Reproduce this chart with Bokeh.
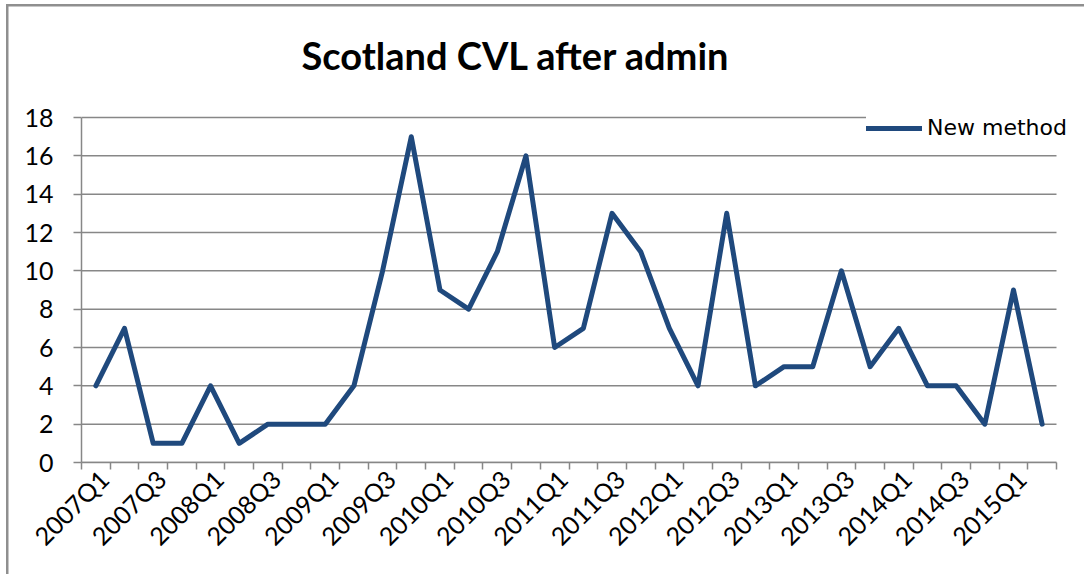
import math
from bokeh.plotting import figure
from bokeh.models import (Range1d, FixedTicker, Legend, LegendItem, Label, ColumnDataSource)
from bokeh.embed import file_html
from bokeh.resources import INLINE

quarters = [f"{y}Q{q}" for y in range(2007, 2016) for q in (1, 2, 3, 4)][:34]
new_method = [4, 7, 1, 1, 4, 1, 2, 2, 2, 4, 10, 17, 9, 8, 11, 16, 6, 7, 13, 11,
              7, 4, 13, 4, 5, 5, 10, 5, 7, 4, 4, 2, 9, 2]
y_ticks = [0, 2, 4, 6, 8, 10, 12, 14, 16, 18]
title_text = "Scotland CVL after admin"
series_name = "New method"

n = len(quarters)
idx = list(range(n))
src = ColumnDataSource(dict(x=idx, y=new_method, q=quarters))

GRID = "#878787"
LINE = "#1F497D"
FONT = "Lato"

# plot area: x 81..1056 px, y 117..462 px; the frame is stretched to the right
# and top edges so that the title and legend are never clipped
px_per_cat = (1056 - 81) / n
x_end = (n - 0.5) + (1084 - 1056) / px_per_cat
y_max = 18
y_end = y_max * 462 / (462 - 117)
label_shift = 0.28  # rotated labels end slightly right of category centre

p = figure(width=1084, height=574, output_backend="svg", toolbar_location=None,
           x_range=Range1d(-0.5, x_end), y_range=Range1d(0, y_end),
           min_border_left=81, min_border_right=0, min_border_top=0,
           min_border_bottom=112)
p.outline_line_color = None
p.background_fill_color = None
p.background_fill_alpha = 0
p.border_fill_color = None
p.border_fill_alpha = 0
p.styles = {
    "background-color": "white",
    "background-image": "linear-gradient(#8f8f8f, #8f8f8f), linear-gradient(#8f8f8f, #8f8f8f)",
    "background-size": "100% 2.5px, 2.5px 100%",
    "background-position": "6px 4px, 6px 4px",
    "background-repeat": "no-repeat",
}

# title
p.add_layout(Label(x=220, y=408, x_units="screen", y_units="screen",
                   text=title_text, text_font=FONT, text_font_style="bold",
                   text_font_size="38px", text_color="black",
                   text_align="left", text_baseline="alphabetic"))

# horizontal gridlines over the category area only
p.segment(x0=[-0.5] * len(y_ticks), x1=[n - 0.5] * len(y_ticks), y0=y_ticks, y1=y_ticks,
          line_color=GRID, line_width=1.5)

r = p.line("x", "y", source=src, line_color=LINE, line_width=5,
           line_join="round", line_cap="round")

# y axis
p.yaxis.bounds = (0, y_max)
p.yaxis.ticker = FixedTicker(ticks=y_ticks)
p.yaxis.axis_line_color = GRID
p.yaxis.axis_line_width = 1.5
p.yaxis.major_tick_line_color = GRID
p.yaxis.major_tick_line_width = 1.5
p.yaxis.major_tick_in = 0
p.yaxis.major_tick_out = 8
p.yaxis.minor_tick_line_color = None
p.yaxis.major_label_standoff = 20
p.yaxis.major_label_text_font = FONT
p.yaxis.major_label_text_font_size = "25px"
p.yaxis.major_label_text_color = "black"

# x axis (category style)
label_pos = [i + label_shift for i in idx[::2]]
p.xaxis.bounds = (-0.5, n - 0.5)
p.xaxis.ticker = FixedTicker(ticks=label_pos,
                             minor_ticks=[i - 0.5 for i in range(n + 1)])
p.xaxis.major_label_overrides = {pos: quarters[i] for pos, i in zip(label_pos, idx[::2])}
p.xaxis.axis_line_color = GRID
p.xaxis.axis_line_width = 1.5
p.xaxis.major_tick_line_color = None
p.xaxis.major_tick_in = 0
p.xaxis.major_tick_out = 0
p.xaxis.minor_tick_line_color = GRID
p.xaxis.minor_tick_line_width = 1.5
p.xaxis.minor_tick_in = 0
p.xaxis.minor_tick_out = 7
p.xaxis.major_label_orientation = math.pi / 4
p.xaxis.major_label_standoff = 5
p.xaxis.major_label_text_font = FONT
p.xaxis.major_label_text_font_size = "25px"
p.xaxis.major_label_text_color = "black"

p.xgrid.visible = False
p.ygrid.visible = False

# legend
legend = Legend(items=[LegendItem(label=series_name, renderers=[r])],
                location=(785, 322), orientation="vertical",
                glyph_width=56, glyph_height=20, label_height=20,
                label_standoff=5, padding=8, spacing=0,
                border_line_color=None, background_fill_color="white",
                background_fill_alpha=1.0,
                label_text_font="DejaVu Sans", label_text_font_size="22px",
                label_text_color="black")
p.add_layout(legend)

open("out.html", "w").write(file_html(p, INLINE))
